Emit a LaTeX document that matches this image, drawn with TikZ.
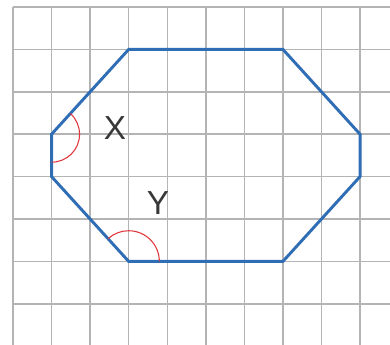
\documentclass[tikz,border=0pt]{standalone}
\usepackage{fontspec}
\setmainfont{Liberation Sans}
\usepackage{xcolor}
\usepackage{tikz}
\usetikzlibrary{calc}

\definecolor{gridgray}{HTML}{B4B4B4}
\definecolor{shapeblue}{HTML}{2F6DB5}
\definecolor{anglered}{HTML}{E0353A}
\definecolor{labelgray}{HTML}{383838}

\begin{document}
\begin{tikzpicture}[
    x=28.92pt, y=-31.8pt,
    gridline/.style={gridgray, line width=1.1pt},
    octagon/.style={shapeblue, line width=2.2pt, line join=miter},
    anglearc/.style={anglered, line width=0.8pt},
    anglelabel/.style={text=labelgray, font=\fontsize{25}{25}\selectfont, inner sep=0pt},
]
    \useasboundingbox (-0.3371,-0.1651) rectangle (9.777,7.9717);

    \foreach \c in {0,...,9}
        \draw[gridline] (\c,0) -- (\c,7.9717);
    \foreach \r in {0,...,7}
        \draw[gridline] (0,\r) -- (9.777,\r);

    \coordinate (A) at (3,1);
    \coordinate (B) at (7,1);
    \coordinate (C) at (9,3);
    \coordinate (D) at (9,4);
    \coordinate (E) at (7,6);
    \coordinate (F) at (3,6);
    \coordinate (G) at (1,4);
    \coordinate (H) at (1,3);

    \draw[octagon] (A) -- (B) -- (C) -- (D) -- (E) -- (F) -- (G) -- (H) -- cycle;

    \draw[anglearc] ($(H)+(-90:21pt)$) arc[start angle=-90, end angle=47.7, radius=21pt];
    \draw[anglearc] ($(F)+(0:23pt)$) arc[start angle=0, end angle=132.3, radius=23pt];

    \node[anglelabel] (lblX) at (2.645,2.854) {X};
    \node[anglelabel] (lblY) at (3.76,4.62) {Y};
\end{tikzpicture}
\end{document}
